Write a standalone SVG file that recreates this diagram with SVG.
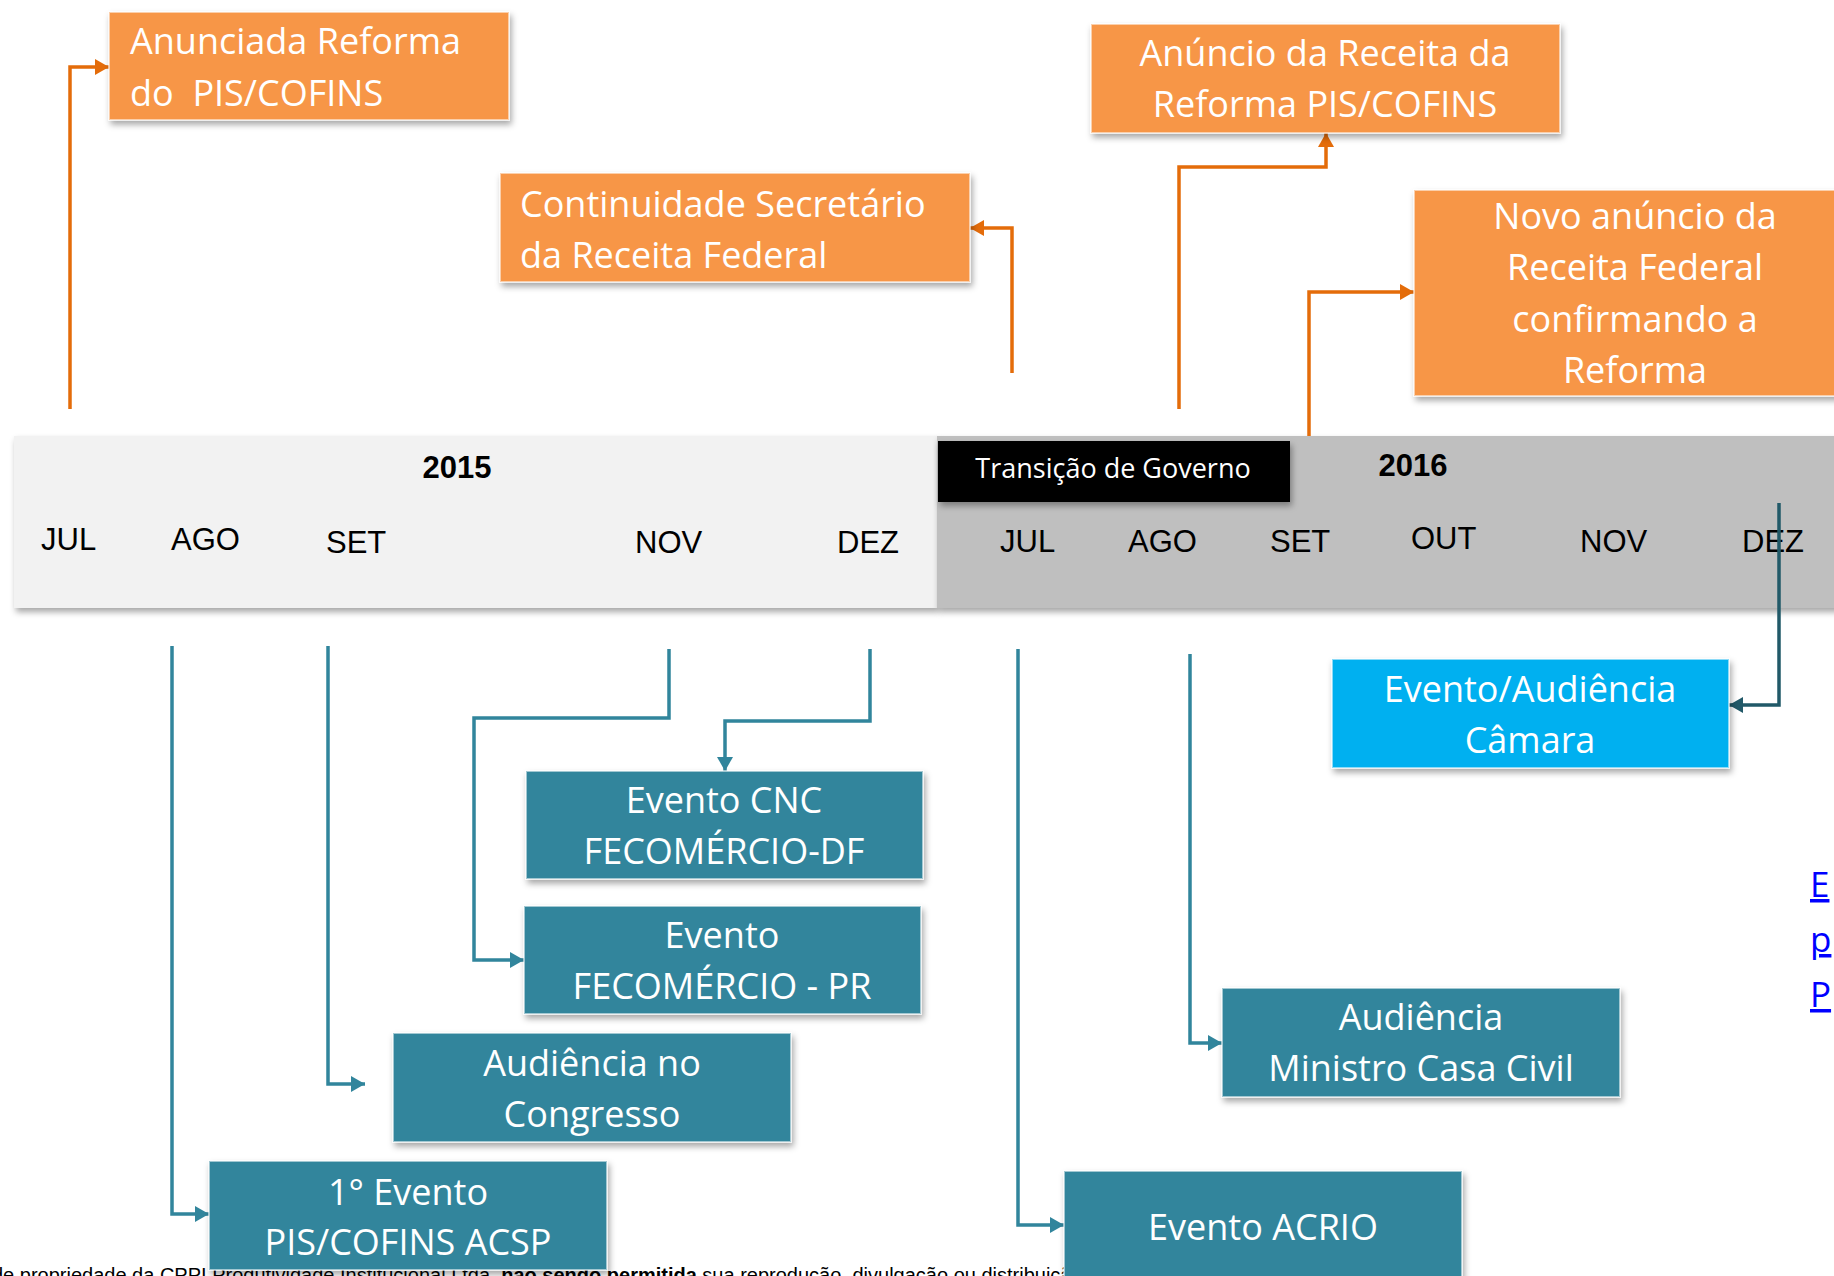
<svg xmlns="http://www.w3.org/2000/svg" width="1834" height="1276" viewBox="0 0 1834 1276">
<style>
.box{stroke:#ffffff;stroke-opacity:0.55;stroke-width:2}
.org{fill:#F79646}
.teal{fill:#31859C}
.cyan{fill:#00B0F0}
.bt{font-family:"Open Sans","Noto Sans",sans-serif;font-size:36px;fill:#ffffff}
.c{text-anchor:middle}
.mo{font-family:"Liberation Sans",Arial,sans-serif;font-size:31px;fill:#000000}
.yr{font-family:"Liberation Sans",Arial,sans-serif;font-size:31px;font-weight:bold;fill:#000000;text-anchor:middle}
.ca{fill:none;stroke:#E46C0A;stroke-width:3.5;marker-end:url(#ao)}
.ct{fill:none;stroke:#31859C;stroke-width:3.5;marker-end:url(#at)}
.cd{fill:none;stroke:#215968;stroke-width:3.5;marker-end:url(#ad)}
.lk{font-family:"Open Sans","Noto Sans",sans-serif;font-size:35px;fill:#0000FF;text-decoration:underline}
.ft{font-family:"Liberation Sans",Arial,sans-serif;font-size:20px;fill:#000000}
</style>
<defs>
<filter id="sh" x="-5%" y="-10%" width="110%" height="130%">
<feDropShadow dx="2" dy="4" stdDeviation="3" flood-color="#000000" flood-opacity="0.35"/>
</filter>
<marker id="ao" markerUnits="userSpaceOnUse" markerWidth="16" markerHeight="16" refX="14" refY="8" orient="auto"><path d="M0,0 L14,8 L0,16 z" fill="#E46C0A"/></marker>
<marker id="at" markerUnits="userSpaceOnUse" markerWidth="16" markerHeight="16" refX="14" refY="8" orient="auto"><path d="M0,0 L14,8 L0,16 z" fill="#31859C"/></marker>
<marker id="ad" markerUnits="userSpaceOnUse" markerWidth="16" markerHeight="16" refX="14" refY="8" orient="auto"><path d="M0,0 L14,8 L0,16 z" fill="#215968"/></marker>
</defs>
<rect width="1834" height="1276" fill="#ffffff"/>

<g id="footer">
<text class="ft" x="-8" y="1282">de propriedade da CPPI Produtividade Institucional Ltda. <tspan font-weight="bold">não sendo permitida</tspan> sua reprodução, divulgação ou distribuição</text>
</g>

<g id="timeline">
<rect x="14" y="436" width="923" height="172" fill="#F2F2F2" filter="url(#sh)"/>
<rect x="937" y="436" width="910" height="172" fill="#BFBFBF" filter="url(#sh)"/>
<text class="yr" x="457" y="478">2015</text>
<text class="yr" x="1413" y="476">2016</text>
<text class="mo" x="41" y="550">JUL</text>
<text class="mo" x="171" y="550">AGO</text>
<text class="mo" x="326" y="553">SET</text>
<text class="mo" x="635" y="553">NOV</text>
<text class="mo" x="837" y="553">DEZ</text>
<text class="mo" x="1000" y="552">JUL</text>
<text class="mo" x="1128" y="552">AGO</text>
<text class="mo" x="1270" y="552">SET</text>
<text class="mo" x="1411" y="549">OUT</text>
<text class="mo" x="1580" y="552">NOV</text>
<text class="mo" x="1742" y="552">DEZ</text>
</g>
<g id="transicao">
<rect x="938" y="441" width="352" height="61" fill="#000000" filter="url(#sh)"/>
<text x="1113" y="478" text-anchor="middle" font-family="'Open Sans','Noto Sans',sans-serif" font-size="27" fill="#ffffff">Transição de Governo</text>
</g>

<g id="connectors">
<path class="ca" d="M70,409 V67 H109"/>
<path class="ca" d="M1012,373 V228 H970"/>
<path class="ca" d="M1179,409 V167 H1326 V133"/>
<path class="ca" d="M1309,436 V292 H1414"/>
<path class="ct" d="M172,646 V1214 H209"/>
<path class="ct" d="M328,646 V1084 H365"/>
<path class="ct" d="M669,649 V718 H474 V960 H524"/>
<path class="ct" d="M870,649 V721 H725 V771"/>
<path class="ct" d="M1018,649 V1225 H1064"/>
<path class="ct" d="M1190,654 V1043 H1222"/>
<path class="cd" d="M1779,503 V705 H1729"/>
</g>

<g id="n-anunciada">
<rect class="box org" x="109" y="12" width="400" height="108" filter="url(#sh)"/>
<text class="bt" x="130" y="54">Anunciada Reforma</text>
<text class="bt" x="130" y="106" style="white-space:pre">do  PIS/COFINS</text>
</g>
<g id="n-continuidade">
<rect class="box org" x="500" y="173" width="470" height="109" filter="url(#sh)"/>
<text class="bt" x="520" y="217">Continuidade Secretário</text>
<text class="bt" x="520" y="268">da Receita Federal</text>
</g>
<g id="n-anuncio">
<rect class="box org" x="1091" y="24" width="469" height="109" filter="url(#sh)"/>
<text class="bt c" x="1325" y="66">Anúncio da Receita da</text>
<text class="bt c" x="1325" y="117">Reforma PIS/COFINS</text>
</g>
<g id="n-novo">
<rect class="box org" x="1414" y="190" width="442" height="206" filter="url(#sh)"/>
<text class="bt c" x="1635" y="229">Novo anúncio da</text>
<text class="bt c" x="1635" y="280">Receita Federal</text>
<text class="bt c" x="1635" y="332">confirmando a</text>
<text class="bt c" x="1635" y="383">Reforma</text>
</g>

<g id="n-camara">
<rect class="box cyan" x="1332" y="659" width="397" height="109" filter="url(#sh)"/>
<text class="bt c" x="1530" y="702">Evento/Audiência</text>
<text class="bt c" x="1530" y="753">Câmara</text>
</g>
<g id="n-cnc">
<rect class="box teal" x="526" y="771" width="397" height="108" filter="url(#sh)"/>
<text class="bt c" x="724" y="813">Evento CNC</text>
<text class="bt c" x="724" y="864">FECOMÉRCIO-DF</text>
</g>
<g id="n-pr">
<rect class="box teal" x="524" y="906" width="397" height="108" filter="url(#sh)"/>
<text class="bt c" x="722" y="948">Evento</text>
<text class="bt c" x="722" y="999">FECOMÉRCIO - PR</text>
</g>
<g id="n-congresso">
<rect class="box teal" x="393" y="1033" width="398" height="109" filter="url(#sh)"/>
<text class="bt c" x="592" y="1076">Audiência no</text>
<text class="bt c" x="592" y="1127">Congresso</text>
</g>
<g id="n-acsp">
<rect class="box teal" x="209" y="1161" width="398" height="109" filter="url(#sh)"/>
<text class="bt c" x="408" y="1205">1° Evento</text>
<text class="bt c" x="408" y="1255">PIS/COFINS ACSP</text>
</g>
<g id="n-casacivil">
<rect class="box teal" x="1222" y="988" width="398" height="109" filter="url(#sh)"/>
<text class="bt c" x="1421" y="1030">Audiência</text>
<text class="bt c" x="1421" y="1081">Ministro Casa Civil</text>
</g>
<g id="n-acrio">
<rect class="box teal" x="1064" y="1171" width="398" height="130" filter="url(#sh)"/>
<text class="bt c" x="1263" y="1240">Evento ACRIO</text>
</g>

<g id="links">
<text class="lk" x="1810" y="897">E</text>
<text class="lk" x="1810" y="952">p</text>
<text class="lk" x="1810" y="1007">P</text>
</g>
</svg>
